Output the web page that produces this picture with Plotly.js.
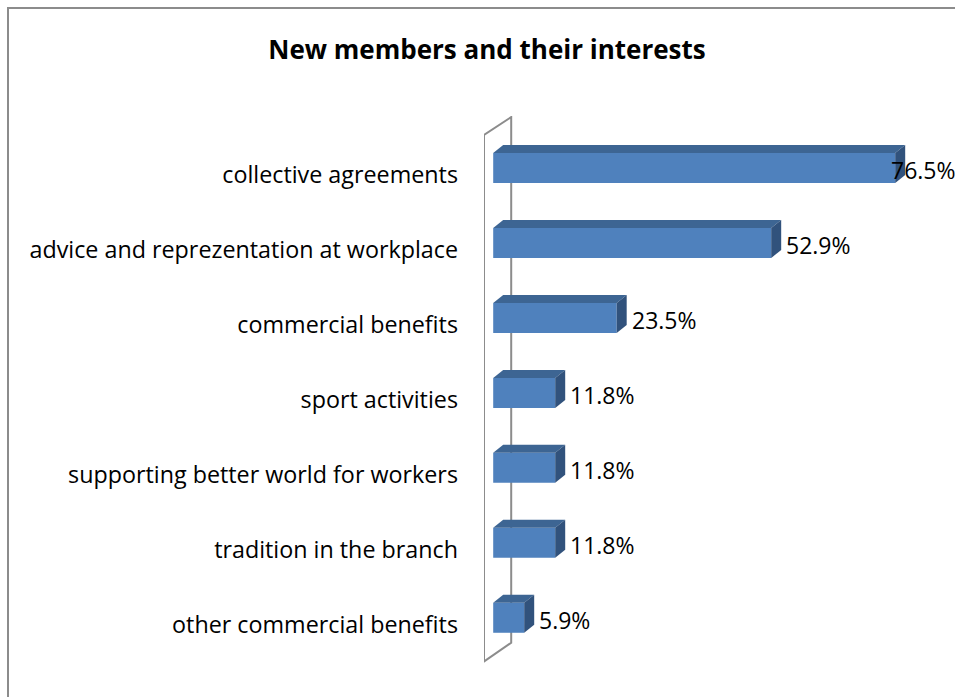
<!DOCTYPE html>
<html><head><meta charset="utf-8">
<script src="https://cdn.plot.ly/plotly-3.0.1.min.js"></script>
<style>
html,body{margin:0;padding:0;background:#fff;overflow:hidden}
#frame{position:absolute;left:7px;top:7px;width:1200px;height:1200px;border-left:2px solid #8c8c8c;border-top:2px solid #8c8c8c;pointer-events:none;z-index:5}
#chart{position:absolute;left:0;top:0;width:955px;height:697px}
</style></head>
<body>
<div id="chart"></div>
<div id="frame"></div>
<script>
const categories = ["collective agreements","advice and reprezentation at workplace","commercial benefits","sport activities","supporting better world for workers","tradition in the branch","other commercial benefits"];
const values = [76.5, 52.9, 23.5, 11.8, 11.8, 11.8, 5.9];
const labels = ["76.5%","52.9%","23.5%","11.8%","11.8%","11.8%","5.9%"];

const FONT = "'Open Sans', sans-serif";
const W = 955, H = 697;
const ml = 484, mr = 15, mt = 116, mb = 30.75;
const xr = [-1.75, -1.75 + (W - ml - mr) / 5.255];
const yr = [6.55, -0.787];
const pxX = (W - ml - mr) / (xr[1] - xr[0]);
const pxY = (H - mt - mb) / (yr[0] - yr[1]);

const idx = categories.map((c, i) => i);
const barOff = -22 / pxY, barW = 30 / pxY;
const dx = 10 / pxX, dy = 8 / pxY;

const shapes = [];
// back wall of category axis
const wx0 = xr[0], wx1 = (511 - 493) / pxX;
const wTop0 = -0.533, wTop1 = -0.773, wBot0 = 6.49, wBot1 = 6.24;
shapes.push({type:'path', xref:'x', yref:'y', layer:'below',
  path:`M${wx0},${wBot0} L${wx0},${wTop0} L${wx1},${wTop1} L${wx1},${wBot1} Z`,
  line:{color:'#8c8c8c', width:2}, fillcolor:'rgba(0,0,0,0)'});

idx.forEach(i => {
  const v = values[i];
  const t = i + barOff, b = i + barOff + barW;
  shapes.push({type:'path', xref:'x', yref:'y', layer:'above',
    path:`M0,${t} L${dx},${t-dy} L${v+dx},${t-dy} L${v},${t} Z`,
    line:{width:0}, fillcolor:'#3d6593'});
  shapes.push({type:'path', xref:'x', yref:'y', layer:'above',
    path:`M${v},${t} L${v+dx},${t-dy} L${v+dx},${b-dy} L${v},${b} Z`,
    line:{width:0}, fillcolor:'#31527c'});
});

const annotations = idx.map(i => {
  const frontPx = ml + (values[i] - xr[0]) * pxX;
  const shift = Math.min(13, (W - 66) - frontPx);
  return {x: values[i], y: i, xref:'x', yref:'y', text: labels[i], showarrow:false,
    xanchor:'left', yanchor:'middle', xshift: shift, yshift: 5,
    font:{family:FONT, size:23, color:'#000'}};
});

const trace = {type:'bar', orientation:'h', x: values, y: idx,
  width: barW, offset: barOff,
  marker:{color:'#4f81bd', line:{width:0}}, hoverinfo:'none'};

const layout = {
  width: W, height: H,
  margin:{l:ml, r:mr, t:mt, b:mb, pad:0},
  paper_bgcolor:'#fff', plot_bgcolor:'rgba(0,0,0,0)',
  showlegend:false,
  title:{text:'<b>New members and their interests</b>', x:487/W, xanchor:'center', y:1-50/H, yanchor:'middle',
    font:{family:FONT, size:26, color:'#000'}},
  xaxis:{range:xr, showgrid:false, zeroline:false, showline:false, showticklabels:false, fixedrange:true},
  yaxis:{range:yr, tickmode:'array', tickvals:idx, ticktext:categories, showgrid:false, zeroline:false, showline:false,
    ticks:'', ticklabelstandoff:25, tickfont:{family:FONT, size:23.3, color:'#000'}},
  shapes: shapes, annotations: annotations
};
Plotly.newPlot('chart', [trace], layout, {staticPlot:true, displayModeBar:false});
</script>
</body></html>
